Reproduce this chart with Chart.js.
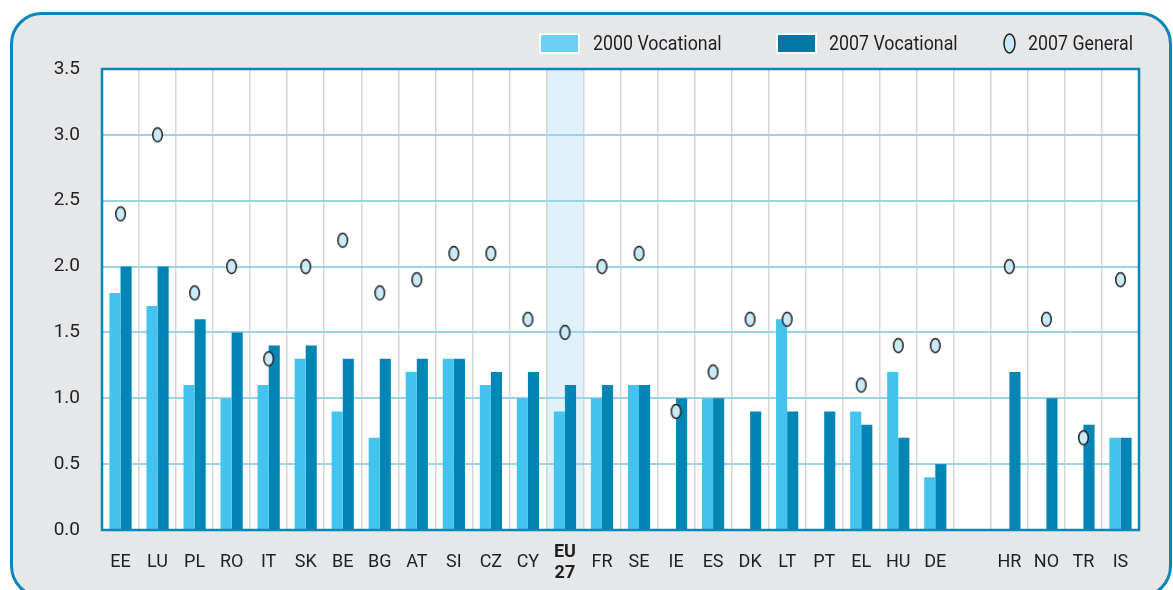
<!DOCTYPE html>
<html>
<head>
<meta charset="utf-8">
<script src="https://cdn.jsdelivr.net/npm/chart.js@4"></script>
<style>
  body { margin: 0; background: #fff; width: 1173px; height: 590px; overflow: hidden; position: relative; }
  #panel { position: absolute; left: 10px; top: 12px; width: 1162px; height: 586px; box-sizing: border-box;
           border: 3px solid #0a86b8; border-radius: 32px; background: #e6e7e8; }
  #chart { position: absolute; left: 0; top: 0; }
  .legend { position: absolute; font-family: Roboto, 'Liberation Sans', sans-serif; white-space: nowrap;
            font-size: 20px; color: #231f20; line-height: 20px; transform: scaleX(0.89); transform-origin: 0 0; }
  .sw { position: absolute; box-sizing: border-box; border: 2px solid #fff; }
</style>
</head>
<body>
<div id="panel"></div>
<canvas id="chart" width="1173" height="590"></canvas>
<div class="sw" style="left:539px;top:33px;width:41px;height:21px;background:#6dcff6"></div>
<div class="legend" style="left:593px;top:33px">2000 Vocational</div>
<div class="sw" style="left:776px;top:33px;width:41px;height:21px;background:#0077a6"></div>
<div class="legend" style="left:829px;top:33px">2007 Vocational</div>
<svg style="position:absolute;left:1002px;top:32px" width="15" height="23"><ellipse cx="7.5" cy="11.5" rx="5.5" ry="9.5" fill="#c8eaf9" stroke="#231f20" stroke-width="1.5"/></svg>
<div class="legend" style="left:1028px;top:33px">2007 General</div>
<script>
var categories = ['EE','LU','PL','RO','IT','SK','BE','BG','AT','SI','CZ','CY',['EU','27'],'FR','SE','IE','ES','DK','LT','PT','EL','HU','DE','','HR','NO','TR','IS'];
var voc2000 = [1.8,1.7,1.1,1.0,1.1,1.3,0.9,0.7,1.2,1.3,1.1,1.0,0.9,1.0,1.1,null,1.0,null,1.6,null,0.9,1.2,0.4,null,null,null,null,0.7];
var voc2007 = [2.0,2.0,1.6,1.5,1.4,1.4,1.3,1.3,1.3,1.3,1.2,1.2,1.1,1.1,1.1,1.0,1.0,0.9,0.9,0.9,0.8,0.7,0.5,null,1.2,1.0,0.8,0.7];
var gen2007 = [2.4,3.0,1.8,2.0,1.3,2.0,2.2,1.8,1.9,2.1,2.1,1.6,1.5,2.0,2.1,0.9,1.2,1.6,1.6,null,1.1,1.4,1.4,null,2.0,1.6,0.7,1.9];
var highlightIndex = 12;

var fontFamily = "Roboto, 'Liberation Sans', sans-serif";

// ellipse marker used for the "2007 General" points
var marker = document.createElement('canvas');
marker.width = 13; marker.height = 17;
var mctx = marker.getContext('2d');
mctx.beginPath();
mctx.ellipse(6.5, 8.5, 4.8, 7, 0, 0, Math.PI * 2);
mctx.fillStyle = '#c8eaf9';
mctx.fill();
mctx.lineWidth = 1.5;
mctx.strokeStyle = '#231f20';
mctx.stroke();

var plotBackground = {
  id: 'plotBackground',
  beforeDraw: function(chart){
    var ctx = chart.ctx, a = chart.chartArea, x = chart.scales.x;
    ctx.save();
    ctx.fillStyle = '#ffffff';
    ctx.fillRect(a.left, a.top, a.right - a.left, a.bottom - a.top);
    var w = (a.right - a.left) / categories.length;
    var cx = x.getPixelForValue(highlightIndex);
    ctx.fillStyle = '#dff1fb';
    ctx.fillRect(cx - w / 2, a.top, w, a.bottom - a.top);
    ctx.restore();
  },
  afterDatasetsDraw: function(chart){
    var ctx = chart.ctx, a = chart.chartArea;
    ctx.save();
    ctx.strokeStyle = '#0a86b8';
    ctx.lineWidth = 2.5;
    ctx.strokeRect(a.left, a.top, a.right - a.left, a.bottom - a.top);
    ctx.restore();
  }
};

var ctx = document.getElementById('chart').getContext('2d');
new Chart(ctx, {
  type: 'bar',
  data: {
    labels: categories,
    datasets: [
      {type: 'line', label: '2007 General', data: gen2007, showLine: false, pointStyle: marker, order: 0},
      {label: '2000 Vocational', data: voc2000, backgroundColor: '#42c4ef', order: 1},
      {label: '2007 Vocational', data: voc2007, backgroundColor: '#0085b5', order: 1}
    ]
  },
  options: {
    responsive: false,
    animation: false,
    layout: {padding: {left: 0, top: 69, right: 34, bottom: 0}},
    datasets: {bar: {categoryPercentage: 0.6, barPercentage: 1.0}},
    plugins: {legend: {display: false}, tooltip: {enabled: false}},
    scales: {
      x: {
        grid: {color: '#d6d6d6', lineWidth: 1.5, drawTicks: false, offset: true},
        border: {display: false},
        ticks: {
          padding: 22,
          crossAlign: 'center',
          color: '#231f20',
          font: function(c){ return {family: fontFamily, size: 18, weight: c.index === highlightIndex ? 'bold' : 'normal'}; }
        },
        afterFit: function(scale){ scale.height = 60; }
      },
      y: {
        min: 0, max: 3.5,
        grid: {color: '#9dd3e8', lineWidth: 2, drawTicks: false},
        border: {display: false},
        ticks: {
          stepSize: 0.5, padding: 22, color: '#231f20',
          font: {family: fontFamily, size: 19},
          callback: function(v){ return v.toFixed(1); }
        },
        afterFit: function(scale){ scale.width = 102; }
      }
    }
  },
  plugins: [plotBackground]
});
</script>
</body>
</html>
